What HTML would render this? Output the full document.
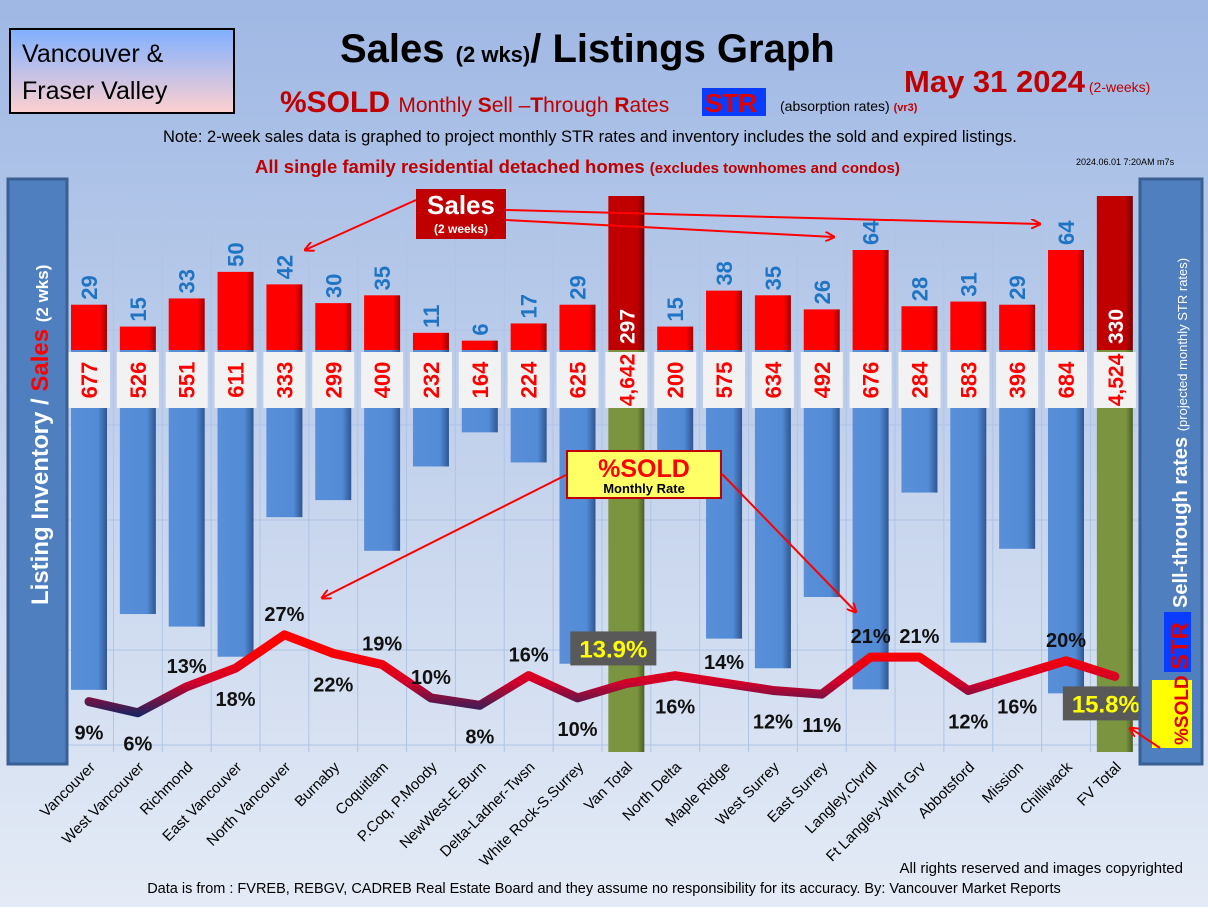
<!DOCTYPE html>
<html><head><meta charset="utf-8"><style>
body{margin:0;width:1208px;height:907px;overflow:hidden;font-family:"Liberation Sans",sans-serif}
svg text{font-family:"Liberation Sans",sans-serif}
</style></head><body>
<svg id="chart" width="1208" height="907" xmlns="http://www.w3.org/2000/svg">
<defs>
<linearGradient id="bg" x1="0" y1="0" x2="0" y2="1"><stop offset="0" stop-color="#9fb8e4"/><stop offset="0.5" stop-color="#c3d2ec"/><stop offset="1" stop-color="#e4ebf6"/></linearGradient>
<linearGradient id="box" x1="0" y1="0" x2="0" y2="1"><stop offset="0" stop-color="#7fb0ff"/><stop offset="1" stop-color="#ffd0d0"/></linearGradient>
<linearGradient id="red" x1="0" y1="0" x2="1" y2="0"><stop offset="0" stop-color="#ff0000"/><stop offset="0.8" stop-color="#ff0000"/><stop offset="1" stop-color="#a00000"/></linearGradient>
<linearGradient id="dred" x1="0" y1="0" x2="1" y2="0"><stop offset="0" stop-color="#c00000"/><stop offset="0.8" stop-color="#c00000"/><stop offset="1" stop-color="#700000"/></linearGradient>
<linearGradient id="blue" x1="0" y1="0" x2="1" y2="0"><stop offset="0" stop-color="#5a8fd8"/><stop offset="0.75" stop-color="#528bd6"/><stop offset="1" stop-color="#2f5590"/></linearGradient>
<linearGradient id="green" x1="0" y1="0" x2="1" y2="0"><stop offset="0" stop-color="#7a9440"/><stop offset="0.8" stop-color="#7a9440"/><stop offset="1" stop-color="#4c5e26"/></linearGradient>
<linearGradient id="line" gradientUnits="userSpaceOnUse" x1="0" y1="650" x2="0" y2="715"><stop offset="0" stop-color="#ff0000"/><stop offset="0.5" stop-color="#d0002a"/><stop offset="1" stop-color="#1a2460"/></linearGradient>
<marker id="ar" markerWidth="10" markerHeight="10" refX="9" refY="5" orient="auto" markerUnits="userSpaceOnUse"><path d="M0,0 L10,5 L0,10" fill="none" stroke="#f00" stroke-width="2"/></marker>
</defs>
<rect width="1208" height="907" fill="url(#bg)"/>
<rect x="10" y="29" width="224" height="84" fill="url(#box)" stroke="#000" stroke-width="2"/>
<text x="22" y="62" font-size="25">Vancouver &amp;</text>
<text x="22" y="99" font-size="25">Fraser Valley</text>
<text x="340" y="62" font-size="40" font-weight="bold">Sales <tspan font-size="22">(2 wks)</tspan>/ Listings Graph</text>
<text x="904" y="92" font-size="31" font-weight="bold" fill="#c00000">May 31  2024<tspan font-size="14" font-weight="normal"> (2-weeks)</tspan></text>
<text x="280" y="112" font-size="30" font-weight="bold" fill="#c00000">%SOLD <tspan font-size="21" font-weight="normal">Monthly <tspan font-weight="bold">S</tspan>ell –<tspan font-weight="bold">T</tspan>hrough <tspan font-weight="bold">R</tspan>ates</tspan></text>
<rect x="702" y="88" width="64" height="28" fill="#0a3cff"/>
<text x="705" y="112" font-size="26" font-weight="bold" fill="#e00000">STR</text>
<text x="780" y="111" font-size="14">(absorption rates) <tspan fill="#c00000" font-size="11" font-weight="bold">(vr3)</tspan></text>
<text x="163" y="142" font-size="16.5">Note: 2-week sales data is graphed to project monthly STR rates and inventory includes the sold and expired listings.</text>
<text x="255" y="173" font-size="18.5" font-weight="bold" fill="#c00000">All single family residential detached homes <tspan font-size="15">(excludes townhomes and condos)</tspan></text>
<text x="1076" y="165" font-size="9">2024.06.01 7:20AM m7s</text>
<g id="grid"></g>
<g id="bars"></g>
<g id="line-g"></g>
<rect x="8" y="179" width="59" height="585" fill="#4f7fbf" stroke="#3a5f94" stroke-width="3"/>
<text transform="translate(48,605) rotate(-90)" font-size="24" font-weight="bold" fill="#fff">Listing Inventory / <tspan fill="#f00">Sales</tspan> <tspan font-size="17">(2  wks)</tspan></text>
<rect x="1140" y="179" width="62" height="585" fill="#4f7fbf" stroke="#3a5f94" stroke-width="3"/>
<rect x="1164" y="612" width="27" height="60" fill="#0a3cff"/>
<rect x="1152" y="680" width="40" height="68" fill="#ff0"/>
<text transform="translate(1188,745) rotate(-90)" font-size="19" font-weight="bold" fill="#e00000">%SOLD</text>
<text transform="translate(1188,670) rotate(-90)" font-size="24" font-weight="bold" fill="#e00000">STR</text>
<text transform="translate(1187,608) rotate(-90)" font-size="20" font-weight="bold" fill="#fff">Sell-through rates  <tspan font-size="13" font-weight="normal">(projected monthly STR rates)</tspan></text>
<g id="xlabels"></g>
<rect x="416" y="189" width="90" height="50" fill="#c00000"/>
<text x="461" y="214" font-size="26" font-weight="bold" fill="#fff" text-anchor="middle">Sales</text>
<text x="461" y="233" font-size="12" font-weight="bold" fill="#fff" text-anchor="middle">(2 weeks)</text>
<g stroke="#f00" stroke-width="2" marker-end="url(#ar)">
<line x1="416" y1="200" x2="305" y2="250"/><line x1="506" y1="210" x2="1040" y2="224"/><line x1="506" y1="220" x2="834" y2="237"/>
<line x1="568" y1="474" x2="322" y2="598"/><line x1="722" y1="474" x2="856" y2="612"/><line x1="1160" y1="748" x2="1130" y2="728"/>
</g>
<rect x="567" y="451" width="154" height="47" fill="#ffff66" stroke="#c00000" stroke-width="2"/>
<text x="644" y="477" font-size="25" font-weight="bold" fill="#f00" text-anchor="middle">%SOLD</text>
<text x="644" y="493" font-size="13" font-weight="bold" text-anchor="middle">Monthly Rate</text>
<text x="1183" y="873" font-size="15" text-anchor="end">All rights reserved and  images copyrighted</text>
<text x="604" y="893" font-size="14.5" text-anchor="middle">Data is from : FVREB, REBGV, CADREB Real Estate Board and they assume no responsibility for its accuracy. By: Vancouver Market Reports</text>
</svg>
<script>
const categories=["Vancouver","West Vancouver","Richmond","East Vancouver","North Vancouver","Burnaby","Coquitlam","P.Coq, P.Moody","NewWest-E.Burn","Delta-Ladner-Twsn","White Rock-S.Surrey","Van Total","North Delta","Maple Ridge","West Surrey","East Surrey","Langley,Clvrdl","Ft Langley-Wlnt Grv","Abbotsford","Mission","Chilliwack","FV Total"];
const sales=[29,15,33,50,42,30,35,11,6,17,29,297,15,38,35,26,64,28,31,29,64,330];
const inventory=[677,526,551,611,333,299,400,232,164,224,625,4642,200,575,634,492,676,284,583,396,684,4524];
const str=[9,6,13,18,27,22,19,10,8,16,10,13.9,16,14,12,11,21,21,12,16,20,15.8];
const isTotal=[0,0,0,0,0,0,0,0,0,0,0,1,0,0,0,0,0,0,0,0,0,1];
const labelPos=["b","b","a","b","a","b","a","a","b","a","b","t","b","a","b","b","a","a","b","b","a","t"];
const NS="http://www.w3.org/2000/svg";
const X=i=>89+i*48.85, BASE=350;
const yS=v=>BASE-Math.min(v*1.5625,154);
const yI=v=>BASE+Math.min(v*0.502,402);
const yP=v=>735-v*3.71;
function mk(t,a,p){const e=document.createElementNS(NS,t);for(const k in a)e.setAttribute(k,a[k]);p.appendChild(e);return e;}
const grid=document.getElementById('grid'),bars=document.getElementById('bars'),lg=document.getElementById('line-g'),xl=document.getElementById('xlabels');
for(let i=0;i<=22;i++){const g=mk('line',{x1:X(i)-24.4,x2:X(i)-24.4,y1:200,y2:752,stroke:'#b0c4e6','stroke-width':1},grid);}
[235,330,425,520,650,745].forEach(y=>{const g=mk('line',{x1:68,x2:1138,y1:y,y2:y,stroke:'#b0c4e6','stroke-width':1},grid);});
categories.forEach((c,i)=>{
 const x=X(i),w=36;
 const ib=mk('rect',{x:x-w/2,y:BASE,width:w,height:yI(inventory[i])-BASE,fill:isTotal[i]?'url(#green)':'url(#blue)'},bars);
 
 const sb=mk('rect',{x:x-w/2,y:yS(sales[i]),width:w,height:BASE-yS(sales[i]),fill:isTotal[i]?'url(#dred)':'url(#red)'},bars);
 
 const bx=mk('rect',{x:x-21,y:352,width:42,height:56,fill:'#f2f2f2'},bars);
 
 const it=mk('text',{transform:`translate(${x+8},380) rotate(-90)`,'font-size':isTotal[i]?21:22,'font-weight':'bold',fill:'#f00','text-anchor':'middle'},bars);
 it.textContent=inventory[i].toLocaleString('en-US');
 
 let st;
 if(isTotal[i]){st=mk('text',{transform:`translate(${x+8},344) rotate(-90)`,'font-size':21,'font-weight':'bold',fill:'#fff'},bars);}
 else{st=mk('text',{transform:`translate(${x+8},${yS(sales[i])-5}) rotate(-90)`,'font-size':22,'font-weight':'bold',fill:'#1f74c4'},bars);}
 st.textContent=sales[i];
 
 const xt=mk('text',{transform:`translate(${x+7},768) rotate(-45)`,'font-size':15,'text-anchor':'end'},xl);
 xt.textContent=c;
 
});
const pts=str.map((v,i)=>[X(i),yP(v)]);
const pl=mk('polyline',{points:pts.map(p=>p.join(',')).join(' '),fill:'none',stroke:'url(#line)','stroke-width':9,'stroke-linejoin':'round','stroke-linecap':'round'},lg);

str.forEach((v,i)=>{
 const [x,y]=pts[i];
 if(labelPos[i]==='t'){
  const r=mk('rect',{x:x-56,y:y-52,width:86,height:34,fill:'#595959'},lg);
  if(i===21){r.setAttribute('x',x-52);r.setAttribute('y',y+10);}
  
  const t=mk('text',{x:+r.getAttribute('x')+43,y:+r.getAttribute('y')+26,'font-size':24,'font-weight':'bold',fill:'#ff0','text-anchor':'middle'},lg);
  t.textContent=v.toFixed(1)+'%';
  
 } else {
  const t=mk('text',{x:x,y:labelPos[i]==='a'?y-14:y+38,'font-size':20,'font-weight':'bold',fill:'#111','text-anchor':'middle'},lg);
  t.textContent=v+'%';
  
 }
});
</script>
</body></html>
